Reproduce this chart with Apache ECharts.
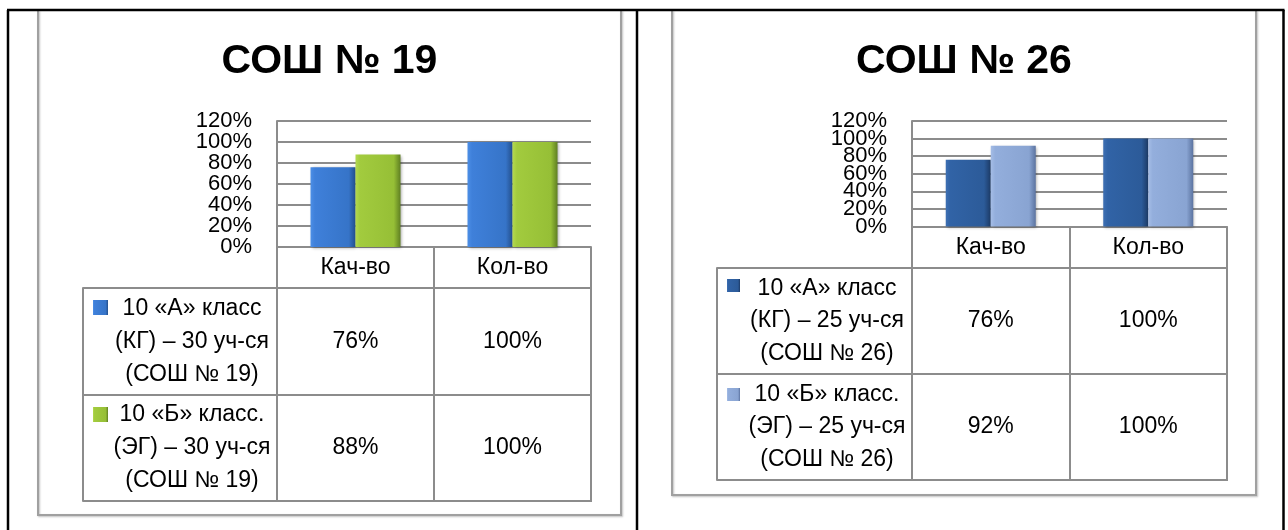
<!DOCTYPE html>
<html>
<head>
<meta charset="utf-8">
<script src="https://cdn.jsdelivr.net/npm/echarts@6/dist/echarts.min.js"></script>
<style>
html,body{margin:0;padding:0;background:#fff;}
#c{width:1288px;height:530px;}
</style>
</head>
<body>
<div id="c"></div>
<script>
// ---------- DATA ----------
const categories = ['Кач-во', 'Кол-во'];
const yTicks = [0, 20, 40, 60, 80, 100, 120];
const titles = ['СОШ № 19', 'СОШ № 26'];

const rowNames19 = ['10 «А» класс\n(КГ) – 30 уч-ся\n(СОШ № 19)', '10 «Б» класс.\n(ЭГ) – 30 уч-ся\n(СОШ № 19)'];
const kg19 = [76, 100];
const eg19 = [88, 100];

const rowNames26 = ['10 «А» класс\n(КГ) – 25 уч-ся\n(СОШ № 26)', '10 «Б» класс.\n(ЭГ) – 25 уч-ся\n(СОШ № 26)'];
const kg26 = [76, 100];
const eg26 = [92, 100];

// ---------- STYLE / LAYOUT ----------
const FONT = '"Liberation Sans", Arial, sans-serif';
const GRAY = '#8c8c8c';

function grad(c0, c1, c2, c3) {
  return { type: 'linear', x: 0, y: 0, x2: 1, y2: 0,
    colorStops: [{offset: 0, color: c0}, {offset: 0.1, color: c1}, {offset: 0.85, color: c2}, {offset: 1, color: c3}] };
}
const colors19 = [grad('#4d8fe6', '#3f80da', '#3674c8', '#234f8c'), grad('#b3d94f', '#a2cb3e', '#96bf36', '#5f7f22')];
const colors26 = [grad('#3d6fb3', '#3163a6', '#2c5b99', '#1c3a66'), grad('#a5bde6', '#93aedc', '#89a4d2', '#5b73a0')];

const L19 = {x: 277, top: 121, w: 314, h: 126, head: 41, tblH: 213, tblL: 83, textC: 192, lh: 33,
  legL: 93, legT: 300, sq: 15, legGap: 92, titleX: 329.5, fL: 38, fR: 621, fB: 515};
const L26 = {x: 912, top: 121, w: 315, h: 105.6, head: 41.4, tblH: 212, tblL: 717, textC: 827, lh: 32.3,
  legL: 727, legT: 279, sq: 13, legGap: 96, titleX: 964, fL: 672, fR: 1256, fB: 495};

const option = {
  backgroundColor: '#fff',
  animation: false,
  textStyle: {fontFamily: FONT},
  title: [], grid: [], xAxis: [], yAxis: [], series: [], legend: [],
  graphic: []
};

const yMin = yTicks[0], yMax = yTicks[yTicks.length - 1], yStep = yTicks[1] - yTicks[0];
// value labels are split over two co-located axes (even / odd ticks) so that tightly packed labels all stay visible
function tickLabel(parity) {
  return v => (Math.round((v - yMin) / yStep) % 2 === parity) ? v + '%' : '';
}

function addPanel(k, L, rowNames, rows, colors) {
  const gi = k * 2, xi = k * 2, yi = k * 4;
  const line = {color: GRAY, width: 2};
  option.title.push({
    text: titles[k], left: L.titleX, top: 41, textAlign: 'center', padding: 0,
    textStyle: {fontSize: 41, fontWeight: 'bold', color: '#000', fontFamily: FONT}
  });
  option.grid.push({left: L.x, top: L.top, width: L.w, height: L.h});
  option.grid.push({left: L.x, top: L.top + L.h + L.head, width: L.w, height: L.tblH,
    show: true, borderColor: GRAY, borderWidth: 2, backgroundColor: 'transparent'});
  option.xAxis.push({
    gridIndex: gi, type: 'category', data: categories,
    axisLine: {lineStyle: line},
    axisTick: {show: true, interval: 0, length: L.head, lineStyle: line},
    axisLabel: {interval: 0, fontSize: 23, color: '#000', fontFamily: FONT, margin: (L.head - 23) / 2}
  });
  option.xAxis.push({
    gridIndex: gi + 1, type: 'category', data: categories,
    axisLine: {show: false}, axisTick: {show: false}, axisLabel: {show: false},
    splitLine: {show: true, interval: 0, lineStyle: line}
  });
  const lblBase = {fontSize: 22, color: '#000', fontFamily: FONT, margin: 25, hideOverlap: false};
  option.yAxis.push({
    gridIndex: gi, type: 'value', position: 'left', min: yMin, max: yMax, interval: yStep,
    axisLine: {show: true, lineStyle: line}, axisTick: {show: false},
    splitLine: {show: true, lineStyle: line},
    axisLabel: Object.assign({formatter: tickLabel(0), showMinLabel: true, showMaxLabel: true}, lblBase)
  });
  option.yAxis.push({
    gridIndex: gi, type: 'value', position: 'left', offset: 0, min: yMin, max: yMax, interval: yStep,
    axisLine: {show: false}, axisTick: {show: false}, splitLine: {show: false},
    axisLabel: Object.assign({formatter: tickLabel(1)}, lblBase)
  });
  option.yAxis.push({
    gridIndex: gi + 1, type: 'category', position: 'left', inverse: true, data: rowNames,
    axisLine: {show: false},
    axisTick: {show: true, interval: 0, length: L.x - L.tblL, lineStyle: line},
    splitLine: {show: true, interval: 0, lineStyle: line},
    axisLabel: {interval: 0, align: 'center', margin: L.x - L.textC, fontSize: 23, lineHeight: L.lh, color: '#000', fontFamily: FONT}
  });
  option.yAxis.push({
    gridIndex: gi + 1, type: 'value', position: 'left', offset: L.x - L.tblL, min: 0, max: 1,
    axisLine: {show: true, lineStyle: line}, axisTick: {show: false}, axisLabel: {show: false}, splitLine: {show: false}
  });
  rows.forEach((vals, r) => {
    option.series.push({
      name: rowNames[r], type: 'bar', xAxisIndex: xi, yAxisIndex: yi,
      data: vals, barWidth: 45, barGap: '0%',
      itemStyle: {color: colors[r], shadowColor: 'rgba(0,0,0,0.35)', shadowBlur: 3, shadowOffsetX: 1, shadowOffsetY: 1}
    });
  });
  const cells = [];
  rows.forEach((vals, r) => vals.forEach((v, c) => cells.push([c, r, v])));
  option.series.push({
    type: 'scatter', xAxisIndex: xi + 1, yAxisIndex: yi + 2, data: cells, silent: true,
    symbol: 'rect', symbolSize: 1, itemStyle: {color: '#ffffff'},
    label: {show: true, position: 'inside', formatter: p => p.value[2] + '%', fontSize: 23,
      color: '#000', opacity: 1, textBorderWidth: 0, fontFamily: FONT}
  });
  option.legend.push({
    data: rowNames, left: L.legL, top: L.legT, orient: 'vertical', padding: 0,
    itemWidth: L.sq, itemHeight: L.sq, itemGap: L.legGap, icon: 'rect', selectedMode: false,
    formatter: () => '', textStyle: {fontSize: 1}
  });
  option.graphic.push({
    type: 'polyline', silent: true,
    shape: {points: [[L.fL, 10], [L.fL, L.fB], [L.fR, L.fB], [L.fR, 10]]},
    style: {stroke: '#a0a0a0', lineWidth: 2, fill: null, shadowColor: 'rgba(0,0,0,0.25)', shadowBlur: 2, shadowOffsetX: 1, shadowOffsetY: 1}
  });
}

addPanel(0, L19, rowNames19, [kg19, eg19], colors19);
addPanel(1, L26, rowNames26, [kg26, eg26], colors26);

// outer black frame
const blk = {stroke: '#000', lineWidth: 2.5};
option.graphic.push(
  {type: 'line', silent: true, shape: {x1: 7, y1: 10, x2: 1284.5, y2: 10}, style: blk},
  {type: 'line', silent: true, shape: {x1: 8, y1: 10, x2: 8, y2: 530}, style: blk},
  {type: 'line', silent: true, shape: {x1: 637, y1: 10, x2: 637, y2: 530}, style: blk},
  {type: 'line', silent: true, shape: {x1: 1283.5, y1: 10, x2: 1283.5, y2: 530}, style: blk}
);

const chart = echarts.init(document.getElementById('c'), null, {renderer: 'canvas'});
chart.setOption(option);
</script>
</body>
</html>
